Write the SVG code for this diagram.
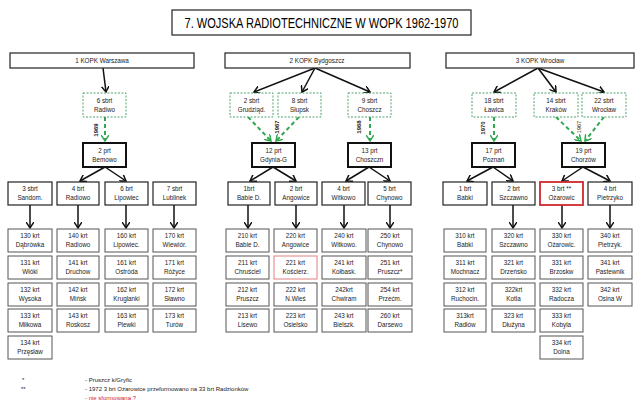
<svg xmlns="http://www.w3.org/2000/svg" width="640" height="406" viewBox="0 0 640 406">
<style>
text{font-family:"Liberation Sans",Arial,sans-serif;font-size:6.3px;fill:#222;text-anchor:middle}
.b{fill:#fff;stroke:#222;stroke-width:1.2}
.k{fill:#fff;stroke:#555;stroke-width:1}
.p{fill:#fff;stroke:#111;stroke-width:2}
.s{fill:#fff;stroke:#3a9a5a;stroke-width:0.9;stroke-dasharray:2,1.5}
.a{stroke:#111;stroke-width:1.5;fill:none;marker-end:url(#ah)}
.g{stroke:#2fa84f;stroke-width:2;stroke-dasharray:4,3;fill:none;marker-end:url(#gh)}
.y{font-size:6px;font-weight:bold}
.n{text-anchor:start;font-size:6px}
</style>
<defs>
<marker id="ah" markerWidth="8" markerHeight="8" refX="6" refY="4" orient="auto" markerUnits="userSpaceOnUse"><path d="M0,0 L6,4 L0,8" fill="none" stroke="#111" stroke-width="1.5"/></marker>
<marker id="gh" markerWidth="8" markerHeight="8" refX="6" refY="4" orient="auto" markerUnits="userSpaceOnUse"><path d="M0,0 L6,4 L0,8" fill="none" stroke="#2fa84f" stroke-width="1.5"/></marker>
</defs>
<rect width="640" height="406" fill="#fff"/>
<g id="title"><rect x="172" y="10" width="299" height="25" class="b" stroke-width="1.5"/><text x="321.5" y="28" textLength="274" lengthAdjust="spacingAndGlyphs" style="font-size:15px;fill:#000">7. WOJSKA RADIOTECHNICZNE W WOPK 1962-1970</text></g>

<g id="connectors">
<path class="a" d="M103,68 L106,92"/>
<path class="g" d="M105,117 L105,141"/>
<path class="a" d="M105,167 L80,181"/><path class="a" d="M105,167 L126,181"/>
<path class="a" d="M30,205 V228"/><path class="a" d="M78,205 V228"/><path class="a" d="M126,205 V228"/><path class="a" d="M174,205 V228"/>
<path class="a" d="M315,68 L254,92"/><path class="a" d="M315,68 L302,92"/><path class="a" d="M315,68 L370,92"/>
<path class="g" d="M248,117 L271,141"/><path class="g" d="M299,117 L276,141"/><path class="g" d="M370,117 L370,141"/>
<path class="a" d="M273,167 L250,181"/><path class="a" d="M273,167 L296,181"/>
<path class="a" d="M369,167 L346,181"/><path class="a" d="M369,167 L390,181"/>
<path class="a" d="M248,205 V228"/><path class="a" d="M296,205 V228"/><path class="a" d="M344,205 V228"/><path class="a" d="M390,205 V228"/>
<path class="a" d="M538,68 L494,92"/><path class="a" d="M538,68 L556,92"/><path class="a" d="M538,68 L604,92"/>
<path class="g" d="M494,117 L494,141"/><path class="g" d="M556,117 L581,141"/><path class="g" d="M604,117 L585,141"/>
<path class="a" d="M493,167 L467,181"/><path class="a" d="M493,167 L513,181"/>
<path class="a" d="M583,167 L562,181"/><path class="a" d="M583,167 L610,181"/>
<path class="a" d="M513,205 V228"/><path class="a" d="M562,205 V228"/><path class="a" d="M610,205 V228"/>
<text class="y" transform="translate(98,130) rotate(-90)">1969</text>
<text class="y" transform="translate(279,127) rotate(-90)">1967</text>
<text class="y" transform="translate(361,127) rotate(-90)">1968</text>
<text class="y" transform="translate(485,128) rotate(-90)">1970</text>
<text transform="translate(581,127) rotate(-90)" style="font-size:5.5px">1967</text>
</g>

<g id="kopk1"><rect x="10" y="53" width="184" height="15" class="b"/><text x="102" y="63">1 KOPK Warszawa</text></g>
<g id="kopk2"><rect x="225" y="53" width="185" height="15" class="b"/><text x="317" y="63">2 KOPK  Bydgoszcz</text></g>
<g id="kopk3"><rect x="446" y="53" width="188" height="15" class="b"/><text x="540" y="63">3 KOPK Wrocław</text></g>

<g id="s6"><rect x="83" y="93" width="43" height="24" class="s"/><text x="104.5" y="103">6 sbrt</text><text x="104.5" y="112">Radiwo</text></g>
<g id="s2"><rect x="230" y="93" width="43" height="24" class="s"/><text x="251.5" y="103">2 sbrt</text><text x="251.5" y="112">Grudziąd.</text></g>
<g id="s8"><rect x="278" y="93" width="43" height="24" class="s"/><text x="299.5" y="103">8 sbrt</text><text x="299.5" y="112">Słupsk</text></g>
<g id="s9"><rect x="348" y="93" width="43" height="24" class="s"/><text x="369.5" y="103">9 sbrt</text><text x="369.5" y="112">Choszcz</text></g>
<g id="s18"><rect x="472" y="93" width="44" height="24" class="s"/><text x="494" y="103">18 sbrt</text><text x="494" y="112">Ławica</text></g>
<g id="s14"><rect x="534" y="93" width="44" height="24" class="s"/><text x="556" y="103">14 sbrt</text><text x="556" y="112">Kraków</text></g>
<g id="s22"><rect x="582" y="93" width="44" height="24" class="s"/><text x="604" y="103">22 sbrt</text><text x="604" y="112">Wrocław</text></g>

<g id="p2"><rect x="83" y="143" width="43" height="24" class="p"/><text x="104.5" y="153">2 prt</text><text x="104.5" y="162">Bemowo</text></g>
<g id="p12"><rect x="252" y="143" width="43" height="24" class="p"/><text x="273.5" y="153">12 prt</text><text x="273.5" y="162">Gdynia-G</text></g>
<g id="p13"><rect x="348" y="143" width="43" height="24" class="p"/><text x="369.5" y="153">13 prt</text><text x="369.5" y="162">Choszczn</text></g>
<g id="p17"><rect x="472" y="143" width="43" height="24" class="p"/><text x="493.5" y="153">17 prt</text><text x="493.5" y="162">Poznań</text></g>
<g id="p19"><rect x="562" y="143" width="43" height="24" class="p"/><text x="583.5" y="153">19 prt</text><text x="583.5" y="162">Chorzów</text></g>

<g id="b3s"><rect x="8" y="182" width="44" height="23" class="b"/><text x="30" y="191">3 sbrt</text><text x="30" y="200">Sandom.</text></g>
<g id="b4"><rect x="57" y="182" width="42" height="23" class="b"/><text x="78" y="191">4 brt</text><text x="78" y="200">Radiowo</text></g>
<g id="b6"><rect x="105" y="182" width="43" height="23" class="b"/><text x="126.5" y="191">6 brt</text><text x="126.5" y="200">Lipowiec</text></g>
<g id="b7s"><rect x="153" y="182" width="43" height="23" class="b"/><text x="174.5" y="191">7 sbrt</text><text x="174.5" y="200">Lublinek</text></g>
<g id="b1g"><rect x="228" y="182" width="42" height="23" class="b"/><text x="249" y="191">1brt</text><text x="249" y="200">Babie D.</text></g>
<g id="b2g"><rect x="275" y="182" width="42" height="23" class="b"/><text x="296" y="191">2 brt</text><text x="296" y="200">Angowice</text></g>
<g id="b4g"><rect x="322" y="182" width="43" height="23" class="b"/><text x="343.5" y="191">4 brt</text><text x="343.5" y="200">Witkowo</text></g>
<g id="b5g"><rect x="368" y="182" width="43" height="23" class="b"/><text x="389.5" y="191">5 brt</text><text x="389.5" y="200">Chynowo</text></g>
<g id="b1w"><rect x="443" y="182" width="44" height="23" class="b"/><text x="465" y="191">1 brt</text><text x="465" y="200">Babki</text></g>
<g id="b2w"><rect x="492" y="182" width="43" height="23" class="b"/><text x="513.5" y="191">2 brt</text><text x="513.5" y="200">Szczawno</text></g>
<g id="b3w"><rect x="540" y="182" width="43" height="23" class="b" style="stroke:#d0282e;stroke-width:1.8"/><text x="561.5" y="191">3 brt **</text><text x="561.5" y="200">Ożarowic</text></g>
<g id="b4w"><rect x="588" y="182" width="44" height="23" class="b"/><text x="610" y="191">4 brt</text><text x="610" y="200">Pietrzyko</text></g>

<g id="k130"><rect x="8" y="229" width="44" height="23" class="k"/><text x="30" y="238">130 krt</text><text x="30" y="247">Dąbrówka</text></g>
<g id="k131"><rect x="8" y="256" width="44" height="23" class="k"/><text x="30" y="265">131 krt</text><text x="30" y="274">Włóki</text></g>
<g id="k132"><rect x="8" y="283" width="44" height="23" class="k"/><text x="30" y="292">132 krt</text><text x="30" y="301">Wysoka</text></g>
<g id="k133"><rect x="8" y="309" width="44" height="23" class="k"/><text x="30" y="318">133 krt</text><text x="30" y="327">Miłkowa</text></g>
<g id="k134"><rect x="8" y="336" width="44" height="23" class="k"/><text x="30" y="345">134 krt</text><text x="30" y="354">Przęsław</text></g>
<g id="k140"><rect x="57" y="229" width="42" height="23" class="k"/><text x="78" y="238">140 krt</text><text x="78" y="247">Radiowo</text></g>
<g id="k141"><rect x="57" y="256" width="42" height="23" class="k"/><text x="78" y="265">141 krt</text><text x="78" y="274">Druchow</text></g>
<g id="k142"><rect x="57" y="283" width="42" height="23" class="k"/><text x="78" y="292">142 krt</text><text x="78" y="301">Mińsk</text></g>
<g id="k143"><rect x="57" y="309" width="42" height="23" class="k"/><text x="78" y="318">143 krt</text><text x="78" y="327">Roskosz</text></g>
<g id="k160"><rect x="105" y="229" width="43" height="23" class="k"/><text x="126.5" y="238">160 krt</text><text x="126.5" y="247">Lipowiec.</text></g>
<g id="k161"><rect x="105" y="256" width="43" height="23" class="k"/><text x="126.5" y="265">161 krt</text><text x="126.5" y="274">Ostróda</text></g>
<g id="k162"><rect x="105" y="283" width="43" height="23" class="k"/><text x="126.5" y="292">162 krt</text><text x="126.5" y="301">Kruglanki</text></g>
<g id="k163"><rect x="105" y="309" width="43" height="23" class="k"/><text x="126.5" y="318">163 krt</text><text x="126.5" y="327">Plewki</text></g>
<g id="k170"><rect x="153" y="229" width="43" height="23" class="k"/><text x="174.5" y="238">170 krt</text><text x="174.5" y="247">Wiewiór.</text></g>
<g id="k171"><rect x="153" y="256" width="43" height="23" class="k"/><text x="174.5" y="265">171 krt</text><text x="174.5" y="274">Różyce</text></g>
<g id="k172"><rect x="153" y="283" width="43" height="23" class="k"/><text x="174.5" y="292">172 krt</text><text x="174.5" y="301">Sławno</text></g>
<g id="k173"><rect x="153" y="309" width="43" height="23" class="k"/><text x="174.5" y="318">173 krt</text><text x="174.5" y="327">Turów</text></g>

<g id="k210"><rect x="226" y="229" width="43" height="23" class="k"/><text x="247.5" y="238">210 krt</text><text x="247.5" y="247">Babie D.</text></g>
<g id="k211"><rect x="226" y="256" width="43" height="23" class="k"/><text x="247.5" y="265">211 krt</text><text x="247.5" y="274">Chruściel</text></g>
<g id="k212"><rect x="226" y="283" width="43" height="23" class="k"/><text x="247.5" y="292">212 krt</text><text x="247.5" y="301">Pruszcz</text></g>
<g id="k213"><rect x="226" y="309" width="43" height="23" class="k"/><text x="247.5" y="318">213 krt</text><text x="247.5" y="327">Lisewo</text></g>
<g id="k220"><rect x="274" y="229" width="43" height="23" class="k"/><text x="295.5" y="238">220 krt</text><text x="295.5" y="247">Angowice</text></g>
<g id="k221"><rect x="274" y="256" width="43" height="23" class="k" style="stroke:#e08080"/><text x="295.5" y="265">221 krt</text><text x="295.5" y="274">Kościerz.</text></g>
<g id="k222"><rect x="274" y="283" width="43" height="23" class="k"/><text x="295.5" y="292">222 krt</text><text x="295.5" y="301">N.Wieś</text></g>
<g id="k223"><rect x="274" y="309" width="43" height="23" class="k"/><text x="295.5" y="318">223 krt</text><text x="295.5" y="327">Osielsko</text></g>
<g id="k240"><rect x="322" y="229" width="44" height="23" class="k"/><text x="344" y="238">240 krt</text><text x="344" y="247">Witkowo.</text></g>
<g id="k241"><rect x="322" y="256" width="44" height="23" class="k"/><text x="344" y="265">241 krt</text><text x="344" y="274">Kołbask.</text></g>
<g id="k242"><rect x="322" y="283" width="44" height="23" class="k"/><text x="344" y="292">242krt</text><text x="344" y="301">Chwiram</text></g>
<g id="k243"><rect x="322" y="309" width="44" height="23" class="k"/><text x="344" y="318">243 krt</text><text x="344" y="327">Bielszk.</text></g>
<g id="k250"><rect x="368" y="229" width="44" height="23" class="k"/><text x="390" y="238">250 krt</text><text x="390" y="247">Chynowo</text></g>
<g id="k251"><rect x="368" y="256" width="44" height="23" class="k"/><text x="390" y="265">251 krt</text><text x="390" y="274">Pruszcz*</text></g>
<g id="k254"><rect x="368" y="283" width="44" height="23" class="k"/><text x="390" y="292">254 krt</text><text x="390" y="301">Przećm.</text></g>
<g id="k260"><rect x="368" y="309" width="44" height="23" class="k"/><text x="390" y="318">260 krt</text><text x="390" y="327">Darsewo</text></g>

<g id="k310"><rect x="444" y="229" width="42" height="23" class="k"/><text x="465" y="238">310 krt</text><text x="465" y="247">Babki</text></g>
<g id="k311"><rect x="444" y="256" width="42" height="23" class="k"/><text x="465" y="265">311 krt</text><text x="465" y="274">Mochnacz</text></g>
<g id="k312"><rect x="444" y="283" width="42" height="23" class="k"/><text x="465" y="292">312 krt</text><text x="465" y="301">Ruchocin.</text></g>
<g id="k313"><rect x="444" y="309" width="42" height="23" class="k"/><text x="465" y="318">313krt</text><text x="465" y="327">Radłów</text></g>
<g id="k320"><rect x="492" y="229" width="43" height="23" class="k"/><text x="513.5" y="238">320 krt</text><text x="513.5" y="247">Szczawno</text></g>
<g id="k321"><rect x="492" y="256" width="43" height="23" class="k"/><text x="513.5" y="265">321 krt</text><text x="513.5" y="274">Drzeńsko</text></g>
<g id="k322"><rect x="492" y="283" width="43" height="23" class="k"/><text x="513.5" y="292">322krt</text><text x="513.5" y="301">Kotla</text></g>
<g id="k323"><rect x="492" y="309" width="43" height="23" class="k"/><text x="513.5" y="318">323 krt</text><text x="513.5" y="327">Dłużyna</text></g>
<g id="k330"><rect x="540" y="229" width="43" height="23" class="k"/><text x="561.5" y="238">330 krt</text><text x="561.5" y="247">Ożarowic.</text></g>
<g id="k331"><rect x="540" y="256" width="43" height="23" class="k"/><text x="561.5" y="265">331 krt</text><text x="561.5" y="274">Brzoskw</text></g>
<g id="k332"><rect x="540" y="283" width="43" height="23" class="k"/><text x="561.5" y="292">332 krt</text><text x="561.5" y="301">Radocza</text></g>
<g id="k333"><rect x="540" y="309" width="43" height="23" class="k"/><text x="561.5" y="318">333 krt</text><text x="561.5" y="327">Kobyla</text></g>
<g id="k334"><rect x="540" y="336" width="43" height="23" class="k"/><text x="561.5" y="345">334 krt</text><text x="561.5" y="354">Dolna</text></g>
<g id="k340"><rect x="588" y="229" width="44" height="23" class="k"/><text x="610" y="238">340 krt</text><text x="610" y="247">Pietrzyk.</text></g>
<g id="k341"><rect x="588" y="256" width="44" height="23" class="k"/><text x="610" y="265">341 krt</text><text x="610" y="274">Pastewnik</text></g>
<g id="k342"><rect x="588" y="283" width="44" height="23" class="k"/><text x="610" y="292">342 krt</text><text x="610" y="301">Osina W</text></g>

<g id="notes">
<text class="n" x="22" y="382">*</text>
<text class="n" x="85" y="382">-  Pruszcz k/Gryfic</text>
<text class="n" x="21" y="391">**</text>
<text class="n" x="85" y="391">-  1972  3 brt Ożarowice przeformowano na 33 brt  Radzionków</text>
<text class="n" x="85" y="400" style="fill:#d0282e">- nie sformowana  ?</text>
</g>
</svg>
